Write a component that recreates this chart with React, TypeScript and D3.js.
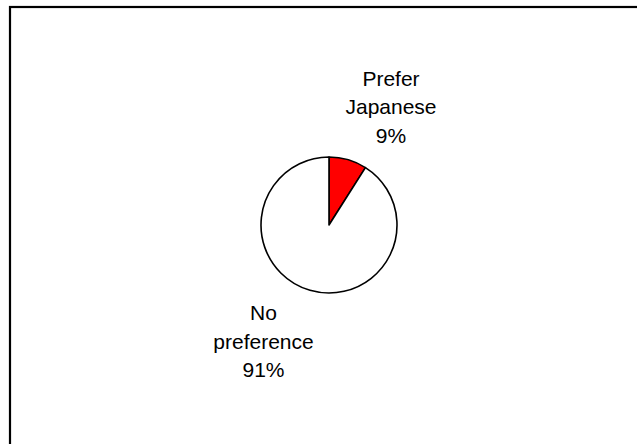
import React from "react";
import * as d3 from "d3";

const categories = ["Prefer Japanese", "No preference"];
const values = [9, 91];
const labelLines = [["Prefer", "Japanese", "9%"], ["No", "preference", "91%"]];
const colors = ["#FF0000", "#FFFFFF"];

const W = 637;
const H = 444;
const cx = 329;
const cy = 225;
const R = 68;

export default function App() {
  const pie = d3.pie<number>().sort(null).value((d) => d);
  const arcs = pie(values);
  const arcGen = d3.arc<d3.PieArcDatum<number>>().innerRadius(0).outerRadius(R);
  const labelPos = [
    { x: 391, y: 85.5 },
    { x: 263.5, y: 320 },
  ];
  const lineH = 28.7;
  return (
    <svg
      width={W}
      height={H}
      style={{ position: "absolute", left: 0, top: 0, background: "#fff" }}
      fontFamily="'Liberation Sans', Arial, sans-serif"
    >
      <rect x={0} y={0} width={W} height={H} fill="#fff" />
      <rect x={10} y={7} width={W + 20} height={H + 20} fill="#fff" stroke="#000" strokeWidth={2.2} />
      <g transform={`translate(${cx},${cy})`}>
        {arcs.map((a, i) => (
          <path key={categories[i]} d={arcGen(a) || ""} fill={colors[i]} stroke="#000" strokeWidth={1.6} strokeLinejoin="round" />
        ))}
      </g>
      {labelLines.map((lines, i) => (
        <text key={categories[i]} textAnchor="middle" fontSize={21} fill="#000">
          {lines.map((l, j) => (
            <tspan key={j} x={labelPos[i].x} y={labelPos[i].y + j * lineH}>
              {l}
            </tspan>
          ))}
        </text>
      ))}
    </svg>
  );
}
